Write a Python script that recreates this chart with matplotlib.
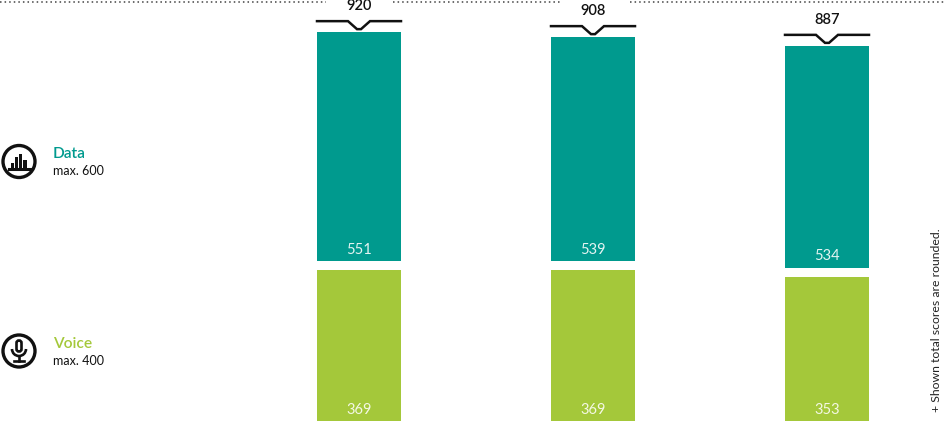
import numpy as np
import matplotlib
matplotlib.use("Agg")
import matplotlib.pyplot as plt
from matplotlib.patches import Circle, Rectangle, Arc, FancyBboxPatch

plt.rcParams['font.family'] = ['Lato', 'DejaVu Sans']

data_scores = [551, 539, 534]
voice_scores = [369, 369, 353]
total_scores = [920, 908, 887]

TEAL = '#009a8e'
GREEN = '#a4c83a'
BLACK = '#111111'
PX = 0.4156  # px per score point
gap = 9 / PX

W, H = 945, 421
fig = plt.figure(figsize=(W / 100, H / 100), dpi=100)

# bars, in score units
ax = fig.add_axes([0, 0, 1, 1])
ax.set_xlim(-359 / 234, (W - 359) / 234)
ax.set_ylim((423.5 - H) / PX, 423.5 / PX)
ax.axis('off')

x = np.arange(3)
data_bottom = np.array(voice_scores) + gap
ax.bar(x, voice_scores, width=84 / 234, color=GREEN)
ax.bar(x, data_scores, bottom=data_bottom, width=84 / 234, color=TEAL)

for i in range(3):
    ax.text(i, 33, str(voice_scores[i]), color='#f4f8e4', fontsize=10.5,
            ha='center', va='center')
    ax.text(i, data_bottom[i] + 28, str(data_scores[i]), color='#e4f4f2', fontsize=10.5,
            ha='center', va='center')

    # bracket with notch over each bar
    top = data_bottom[i] + data_scores[i]
    base = top + 11 / PX
    notch = top + 3 / PX
    w = 42 / 234
    n1 = 11 / 234
    n2 = 2 / 234
    ax.plot([i - w, i - n1, i - n2, i + n2, i + n1, i + w],
            [base, base, notch, notch, base, base],
            color=BLACK, lw=1.8, solid_joinstyle='miter')
    ax.text(i, base + 15 / PX, str(total_scores[i]), color=BLACK, fontsize=10.5,
            fontweight='semibold', ha='center', va='center')

# everything else in pixel coordinates
ov = fig.add_axes([0, 0, 1, 1])
ov.set_xlim(0, W)
ov.set_ylim(H, 0)
ov.axis('off')
ov.patch.set_alpha(0)

# dotted line along the top edge
for x0, x1 in [(0, 326), (393, 560), (630, W)]:
    ov.plot([x0, x1], [1.5, 1.5], color='#444444', lw=1.1, ls=(0, (1, 2)))

# data icon
ov.add_patch(Circle((19, 161.5), 16, fill=False, ec=BLACK, lw=2.4))
ov.plot([8.5, 29.5], [169, 169], color=BLACK, lw=2.2)
for bx, bh in [(12.5, 6), (16.5, 12), (20.5, 15), (25, 9)]:
    ov.add_patch(Rectangle((bx - 1.6, 169 - bh), 3.2, bh, color=BLACK, lw=0))

# voice icon
ov.add_patch(Circle((19, 351), 16, fill=False, ec=BLACK, lw=2.4))
ov.add_patch(FancyBboxPatch((16.5, 340.5), 5, 11, boxstyle='round,pad=0,rounding_size=2.4',
                            fill=False, ec=BLACK, lw=1.9))
ov.add_patch(Arc((19, 349), 14, 14, theta1=0, theta2=180, ec=BLACK, lw=1.9))
ov.plot([19, 19], [356, 361], color=BLACK, lw=1.9)
ov.plot([14, 24], [361, 361], color=BLACK, lw=1.9)

# legend text
ov.text(53, 154, 'Data', color=TEAL, fontsize=11.2, fontweight='semibold', va='center')
ov.text(53, 171, 'max. 600', color=BLACK, fontsize=9, va='center')
ov.text(53, 344, 'Voice', color=GREEN, fontsize=11.2, fontweight='semibold', va='center')
ov.text(53, 361, 'max. 400', color=BLACK, fontsize=9, va='center')

# footnote
ov.text(937, 412, '+ Shown total scores are rounded.', color='#222222', fontsize=8.8,
        rotation=90, ha='center', va='bottom')

fig.savefig('out.png', dpi=100)
